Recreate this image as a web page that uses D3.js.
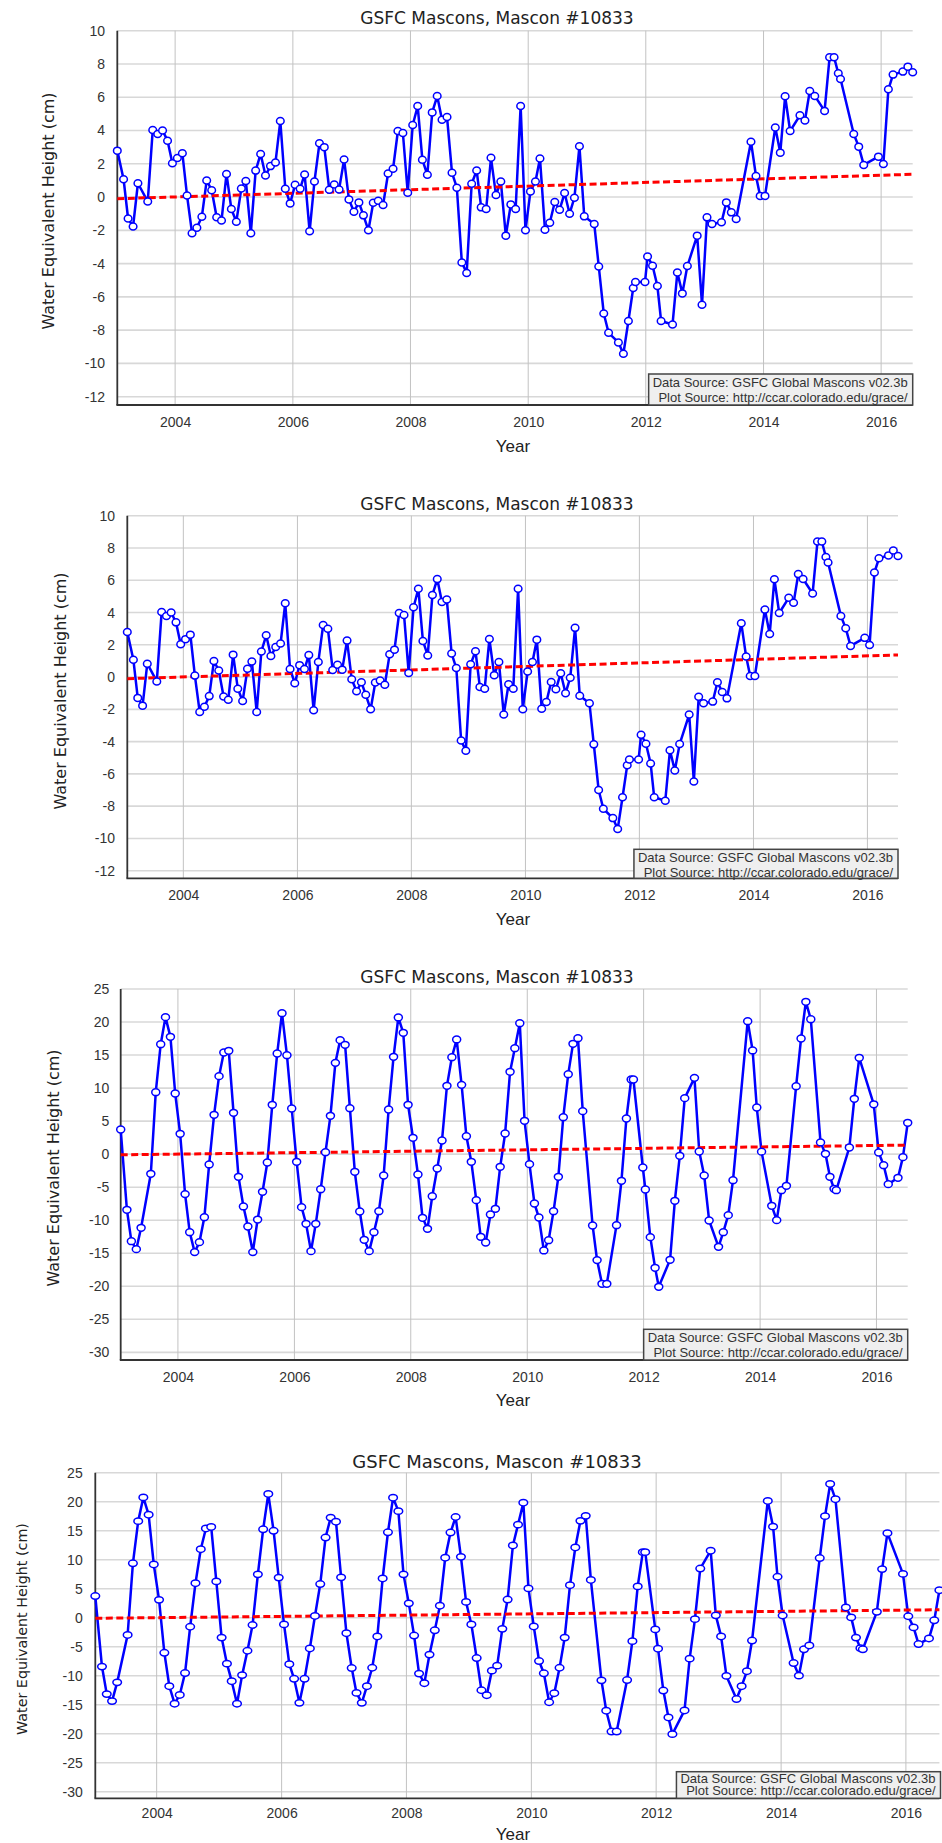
<!DOCTYPE html>
<html><head><meta charset="utf-8">
<script src="https://cdn.jsdelivr.net/npm/d3@7"></script>
<style>body{margin:0;background:#fff}svg{display:block}</style>
</head><body>
<svg id="c" width="942" height="1843"></svg>
<script>
// ---- data ----
const dates = [
 "2003-01-07","2003-02-15","2003-03-15","2003-04-15","2003-05-15","2003-07-15","2003-08-15","2003-09-15","2003-10-15","2003-11-15","2003-12-15",
 "2004-01-15","2004-02-15","2004-03-15","2004-04-15","2004-05-15","2004-06-15","2004-07-15","2004-08-15","2004-09-15","2004-10-15","2004-11-15","2004-12-15",
 "2005-01-15","2005-02-15","2005-03-15","2005-04-15","2005-05-15","2005-06-15","2005-07-15","2005-08-15","2005-09-15","2005-10-15","2005-11-15","2005-12-15",
 "2006-01-15","2006-02-15","2006-03-15","2006-04-15","2006-05-15","2006-06-15","2006-07-15","2006-08-15","2006-09-15","2006-10-15","2006-11-15","2006-12-15",
 "2007-01-15","2007-02-15","2007-03-15","2007-04-15","2007-05-15","2007-06-15","2007-07-15","2007-08-15","2007-09-15","2007-10-15","2007-11-15","2007-12-15",
 "2008-01-15","2008-02-15","2008-03-15","2008-04-15","2008-05-15","2008-06-15","2008-07-15","2008-08-15","2008-09-15","2008-10-15","2008-11-15","2008-12-15",
 "2009-01-15","2009-02-15","2009-03-15","2009-04-15","2009-05-15","2009-06-15","2009-07-15","2009-08-15","2009-09-15","2009-10-15","2009-11-15","2009-12-15",
 "2010-01-15","2010-02-15","2010-03-15","2010-04-15","2010-05-15","2010-06-15","2010-07-15","2010-08-15","2010-09-15","2010-10-15","2010-11-15","2010-12-15",
 "2011-02-15","2011-03-15","2011-04-15","2011-05-15","2011-07-15","2011-08-15","2011-09-15","2011-10-15","2011-10-29","2011-12-27",
 "2012-01-12","2012-02-12","2012-03-13","2012-04-05","2012-06-15","2012-07-15","2012-08-15","2012-09-15","2012-11-15","2012-12-15",
 "2013-01-15","2013-02-15","2013-04-15","2013-05-15","2013-06-15","2013-07-15","2013-10-15","2013-11-15","2013-12-11",
 "2014-01-10","2014-03-15","2014-04-15","2014-05-15","2014-06-15","2014-08-15","2014-09-15","2014-10-15","2014-11-15",
 "2015-01-15","2015-02-15","2015-03-15","2015-04-10","2015-04-24","2015-07-15","2015-08-15","2015-09-15","2015-12-15",
 "2016-01-15","2016-02-15","2016-03-15","2016-05-15","2016-06-15","2016-07-15"
];
const deseasoned = [
 2.79,1.07,-1.29,-1.77,0.83,-0.27,4.03,3.79,4.0,3.39,2.03,
 2.35,2.63,0.09,-2.17,-1.84,-1.18,1.0,0.41,-1.21,-1.41,1.39,-0.72,
 -1.48,0.51,0.97,-2.17,1.59,2.59,1.3,1.86,2.08,4.57,0.5,-0.38,
 0.74,0.5,1.36,-2.06,0.94,3.23,3.0,0.44,0.76,0.46,2.26,-0.14,
 -0.88,-0.32,-1.1,-2.0,-0.34,-0.22,-0.48,1.42,1.7,3.97,3.85,0.26,
 4.33,5.47,2.24,1.34,5.09,6.07,4.65,4.81,1.46,0.56,-3.93,-4.57,
 0.8,1.6,-0.62,-0.72,2.36,0.12,0.94,-2.32,-0.44,-0.72,5.47,-2.0,
 0.34,0.94,2.32,-1.96,-1.54,-0.3,-0.76,0.24,-1.0,-0.04,3.05,-1.16,
 -1.62,-4.17,-7.0,-8.16,-8.74,-9.42,-7.45,-5.47,-5.11,-5.11,
 -3.57,-4.13,-5.35,-7.45,-7.66,-4.53,-5.79,-4.15,-2.32,-6.47,
 -1.22,-1.62,-1.52,-0.32,-0.92,-1.32,3.33,1.27,0.07,
 0.07,4.18,2.67,6.06,3.97,4.91,4.6,6.38,6.08,
 5.18,8.4,8.4,7.44,7.1,3.79,3.03,1.93,2.43,
 1.99,6.48,7.36,7.54,7.84,7.5
];
const seasonal = [
 3.73,-8.43,-13.17,-14.38,-11.15,-2.98,9.38,16.65,20.74,17.76,9.18,
 3.08,-6.05,-11.81,-14.83,-13.32,-9.54,-1.56,5.95,11.81,15.39,15.64,6.26,
 -3.43,-7.92,-10.95,-14.83,-9.9,-5.7,-1.26,7.47,15.24,21.34,14.98,6.91,
 -1.16,-8.02,-10.54,-14.68,-10.54,-5.3,0.3,5.8,13.82,17.26,16.55,6.96,
 -2.67,-8.68,-12.97,-14.68,-11.81,-8.63,-3.23,6.76,14.73,20.69,18.37,7.47,
 2.47,-3.08,-9.64,-11.3,-6.36,-2.17,2.07,10.34,14.68,17.36,10.49,2.72,
 -1.16,-6.96,-12.51,-13.37,-9.13,-8.27,-1.92,3.13,12.46,16.04,19.83,5.05,
 -1.51,-7.47,-9.59,-14.58,-13.02,-8.63,-3.43,5.6,12.11,16.7,17.56,6.51,
 -10.8,-16.04,-19.63,-19.63,-10.75,-4.04,5.4,11.3,11.3,-2.02,
 -5.35,-12.56,-17.2,-20.08,-15.99,-7.06,-0.25,8.48,11.55,0.4,
 -3.23,-10.04,-14.03,-11.81,-9.23,-3.94,20.13,15.7,7.06,
 0.38,-7.82,-9.99,-5.45,-4.79,10.29,17.51,23.06,20.43,
 1.77,0.05,-3.43,-5.25,-5.45,1.01,8.38,14.58,7.55,
 0.25,-1.67,-4.54,-3.58,-0.45,4.74
];
const trendEnds = [-0.1, 1.37];
const yearTicks = ["2004","2006","2008","2010","2012","2014","2016"];
const yTicksSmall = [10,8,6,4,2,0,-2,-4,-6,-8,-10,-12];
const yTicksLarge = [25,20,15,10,5,0,-5,-10,-15,-20,-25,-30];
const titleText = "GSFC Mascons, Mascon #10833";
const xTitle = "Year";
const yTitle = "Water Equivalent Height (cm)";
const sourceLines = ["Data Source: GSFC Global Mascons v02.3b", "Plot Source: http://ccar.colorado.edu/grace/"];

// ---- layout of the four panels ----
const panels = [
 {values: deseasoned, ticks: yTicksSmall, dom: [-12.5, 10], x0: 117.3, x1: 912.7, yTop: 30.7, yBot: 405,
  titleY: 23.5, titleSize: 17, tickY: 426.7, yearY: 451.5, labelX: 48, labelY: 211, labelSize: 16, ytickR: 105,
  boxTop: 374, boxRight: 912.7, src: [387, 401.5], rx: 3.8, ry: 3.5},
 {values: deseasoned, ticks: yTicksSmall, dom: [-12.47, 10], x0: 127.3, x1: 898, yTop: 515.7, yBot: 878.3,
  titleY: 510, titleSize: 17, tickY: 900, yearY: 925, labelX: 60, labelY: 691, labelSize: 16, ytickR: 115,
  boxTop: 849.3, boxRight: 898, src: [862.3, 876.8], rx: 3.8, ry: 3.5},
 {values: seasonal, ticks: yTicksLarge, dom: [-31.16, 25], x0: 120.7, x1: 907.7, yTop: 989, yBot: 1360,
  titleY: 983, titleSize: 17, tickY: 1381.7, yearY: 1406, labelX: 53, labelY: 1168, labelSize: 16, ytickR: 109.3,
  boxTop: 1329.3, boxRight: 907.7, src: [1342.3, 1356.8], rx: 4, ry: 3.4},
 {values: seasonal, ticks: yTicksLarge, dom: [-31.14, 25], x0: 95.3, x1: 939.4, yTop: 1472.7, yBot: 1798.3,
  titleY: 1468, titleSize: 18, tickY: 1818.3, yearY: 1840, labelX: 21.5, labelY: 1629, labelSize: 14.3, ytickR: 82.7,
  boxTop: 1771.7, boxRight: 940.5, src: [1783.3, 1795], rx: 4.3, ry: 3.2}
];

const parse = d3.timeParse("%Y-%m-%d");
const times = dates.map(parse);
const svg = d3.select("#c");
const SANS = "'Liberation Sans', Arial, sans-serif";
const WIDE = "'DejaVu Sans', Verdana, sans-serif";

panels.forEach(p => {
  const g = svg.append("g");
  const x = d3.scaleTime().domain([times[0], times[times.length - 1]]).range([p.x0, p.x1]);
  const y = d3.scaleLinear().domain(p.dom).range([p.yBot, p.yTop]);
  const yearDates = yearTicks.map(t => new Date(+t, 0, 1));

  // horizontal grid
  g.append("g").selectAll("line").data(p.ticks).join("line")
    .attr("x1", p.x0).attr("x2", p.x1).attr("y1", d => y(d)).attr("y2", d => y(d))
    .attr("stroke", "#d8d8d8").attr("stroke-width", 1.6);
  // vertical grid
  g.append("g").selectAll("line").data(yearDates).join("line")
    .attr("x1", d => x(d)).attr("x2", d => x(d)).attr("y1", p.yTop).attr("y2", p.yBot)
    .attr("stroke", "#c2c2c2").attr("stroke-width", 1);

  // y axis labels (plain hyphen minus as in the reference)
  const yAxis = d3.axisLeft(y).tickValues(p.ticks).tickSize(0).tickPadding(0).tickFormat(d => String(d));
  const ya = g.append("g").attr("transform", `translate(${p.ytickR},0)`).call(yAxis);
  ya.select(".domain").remove();
  ya.selectAll("text").attr("font-family", SANS).attr("font-size", 14).attr("fill", "#333");

  // x axis labels
  const xAxis = d3.axisBottom(x).tickValues(yearDates).tickSize(0).tickPadding(0)
    .tickFormat((d, i) => yearTicks[i]);
  const xa = g.append("g").attr("transform", `translate(0,${p.tickY})`).call(xAxis);
  xa.select(".domain").remove();
  xa.selectAll("text").attr("dy", null).attr("y", 0).attr("font-family", SANS).attr("font-size", 14).attr("fill", "#333");

  // axis lines
  g.append("line").attr("x1", p.x0).attr("x2", p.x0).attr("y1", p.yTop).attr("y2", p.yBot)
    .attr("stroke", "#333").attr("stroke-width", 1.8);
  g.append("line").attr("x1", p.x0 - 0.9).attr("x2", p.x1).attr("y1", p.yBot).attr("y2", p.yBot)
    .attr("stroke", "#333").attr("stroke-width", 1.8);

  // data line
  const pts = times.map((t, i) => [t, p.values[i]]);
  g.append("path").datum(pts)
    .attr("d", d3.line().x(d => x(d[0])).y(d => y(d[1])))
    .attr("fill", "none").attr("stroke", "#0000ff").attr("stroke-width", 2.5).attr("stroke-linejoin", "round");

  // trend line
  g.append("path").datum([[times[0], trendEnds[0]], [times[times.length - 1], trendEnds[1]]])
    .attr("d", d3.line().x(d => x(d[0])).y(d => y(d[1])))
    .attr("fill", "none").attr("stroke", "#ff0000").attr("stroke-width", 3).attr("stroke-dasharray", "7,3.5");

  // markers
  g.append("g").selectAll("ellipse").data(pts).join("ellipse")
    .attr("cx", d => x(d[0])).attr("cy", d => y(d[1])).attr("rx", p.rx).attr("ry", p.ry)
    .attr("fill", "#fff").attr("stroke", "#0000ff").attr("stroke-width", 1.5);

  // source box
  const bg = g.append("g");
  const rect = bg.append("rect");
  const texts = bg.selectAll("text").data(sourceLines).join("text")
    .attr("x", p.boxRight - 5).attr("y", (d, i) => p.src[i])
    .attr("text-anchor", "end").attr("font-family", SANS).attr("font-size", 13).attr("fill", "#333")
    .text(d => d);
  let w = 0;
  texts.each(function () { w = Math.max(w, this.getComputedTextLength()); });
  rect.attr("x", p.boxRight - w - 9).attr("y", p.boxTop).attr("width", w + 9).attr("height", p.yBot - p.boxTop)
    .attr("fill", "#efefef").attr("stroke", "#444").attr("stroke-width", 1.5);

  // titles
  g.append("text").attr("x", 497).attr("y", p.titleY).attr("text-anchor", "middle")
    .attr("font-family", WIDE).attr("font-size", p.titleSize).attr("fill", "#222").text(titleText);
  g.append("text").attr("x", 513).attr("y", p.yearY).attr("text-anchor", "middle")
    .attr("font-family", SANS).attr("font-size", 17).attr("fill", "#222").text(xTitle);
  g.append("text").attr("transform", `translate(${p.labelX},${p.labelY}) rotate(-90)`)
    .attr("text-anchor", "middle").attr("dominant-baseline", "central")
    .attr("font-family", WIDE).attr("font-size", p.labelSize).attr("fill", "#222").text(yTitle);
});
</script>
</body></html>
